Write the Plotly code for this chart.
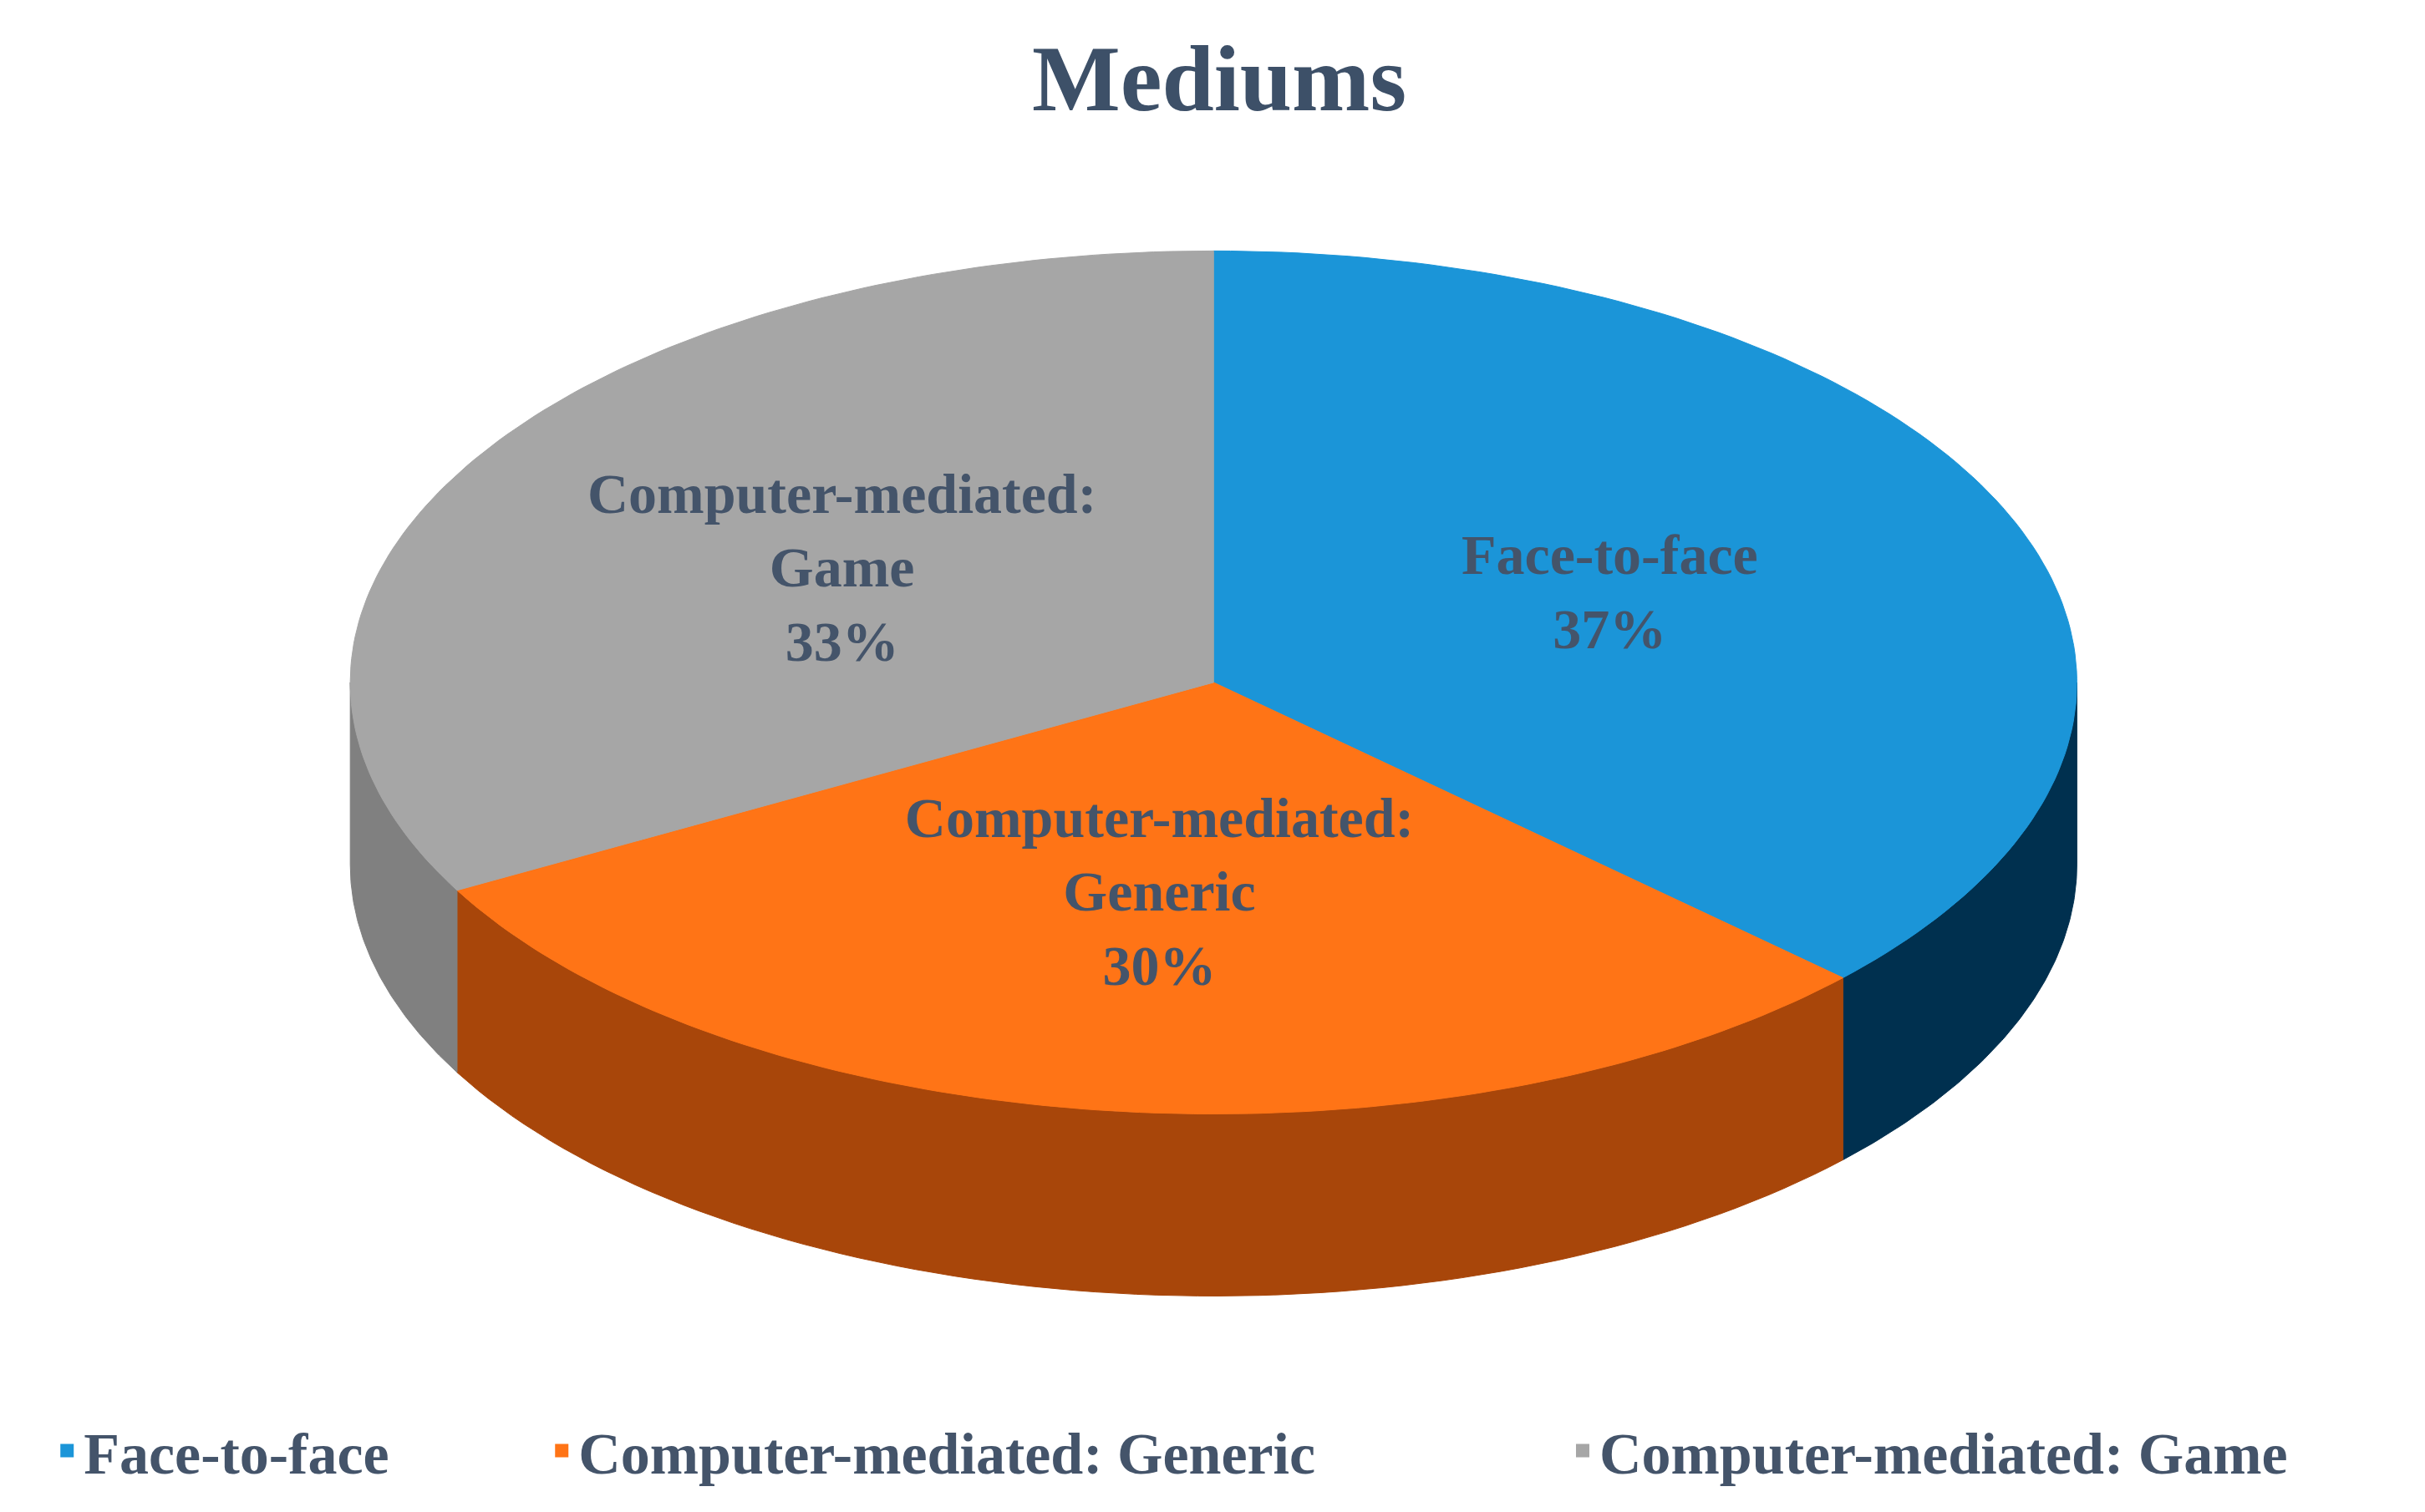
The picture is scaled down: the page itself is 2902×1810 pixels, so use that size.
import numpy as np
import plotly.graph_objects as go

# data
labels = ["Face-to-face", "Computer-mediated: Generic", "Computer-mediated: Game"]
label_text = ["Face-to-face<br>37%", "Computer-mediated:<br>Generic<br>30%", "Computer-mediated:<br>Game<br>33%"]
shares = [37, 30, 33]
top_colors = ["#1b95d8", "#ff7416", "#a6a6a6"]
side_colors = ["#00304f", "#a8460a", "#808080"]
legend_x = [0.018, 0.222, 0.643]

RX, RY, DEPTH = 1.0, 0.5, 0.211
TXT = "#44546a"
FONT = "Liberation Serif"


def ell(a):
    r = np.radians(a)
    return RX * np.cos(r), RY * np.sin(r)


fig = go.Figure()

# slice angle ranges, starting at top and going clockwise
bounds = 90 - 360 * np.concatenate([[0], np.cumsum(shares)]) / sum(shares)

# visible side walls (front half: angles between -180 and 0)
for i in range(len(shares)):
    hi, lo = min(bounds[i], 0), max(bounds[i + 1], -180)
    if hi <= lo:
        continue
    ang = np.linspace(hi, lo, 80)
    x, y = ell(ang)
    xs = np.concatenate([x, x[::-1], [x[0]]])
    ys = np.concatenate([y, y[::-1] - DEPTH, [y[0]]])
    fig.add_trace(go.Scatter(x=xs, y=ys, fill="toself", mode="lines",
                             line=dict(color=side_colors[i], width=1),
                             fillcolor=side_colors[i], showlegend=False, hoverinfo="skip"))

# top faces
for i in range(len(shares)):
    ang = np.linspace(bounds[i], bounds[i + 1], 120)
    x, y = ell(ang)
    xs = np.concatenate([[0], x, [0]])
    ys = np.concatenate([[0], y, [0]])
    fig.add_trace(go.Scatter(x=xs, y=ys, fill="toself", mode="lines",
                             line=dict(color=top_colors[i], width=1),
                             fillcolor=top_colors[i], showlegend=False, hoverinfo="skip"))

# slice labels
for i in range(len(shares)):
    mid = (bounds[i] + bounds[i + 1]) / 2
    x, y = ell(mid)
    fig.add_trace(go.Scatter(x=[x * 0.5], y=[y * 0.5], mode="text",
                             text=["<b>" + label_text[i] + "</b>"],
                             textfont=dict(family=FONT, size=68, color=TXT),
                             showlegend=False, hoverinfo="skip"))

# legend entries, one legend each so they spread across the width
for i in range(len(labels)):
    lg = "legend" if i == 0 else f"legend{i + 1}"
    fig.add_trace(go.Scatter(x=[None], y=[None], mode="markers", name="<b>" + labels[i] + "</b>",
                             marker=dict(symbol="square", size=22, color=top_colors[i]),
                             legend=lg, showlegend=True))
    fig.update_layout({lg: dict(x=legend_x[i], xanchor="left", y=0.045, yanchor="middle",
                                font=dict(family=FONT, size=70, color=TXT),
                                bgcolor="rgba(0,0,0,0)", itemwidth=30)})

fig.update_layout(
    width=2902, height=1810,
    paper_bgcolor="white", plot_bgcolor="white",
    margin=dict(l=0, r=0, t=0, b=0),
    title=dict(text="<b>Mediums</b>", x=0.5, xanchor="center", y=0.975, yanchor="top",
               font=dict(family=FONT, size=112, color="#3d5068")),
    font=dict(family=FONT, color=TXT),
    xaxis=dict(range=[-1.398, 1.411], visible=False, fixedrange=True),
    yaxis=dict(range=[-0.969, 0.783], visible=False, scaleanchor="x", scaleratio=1, fixedrange=True),
)

fig.write_html("out.html")
